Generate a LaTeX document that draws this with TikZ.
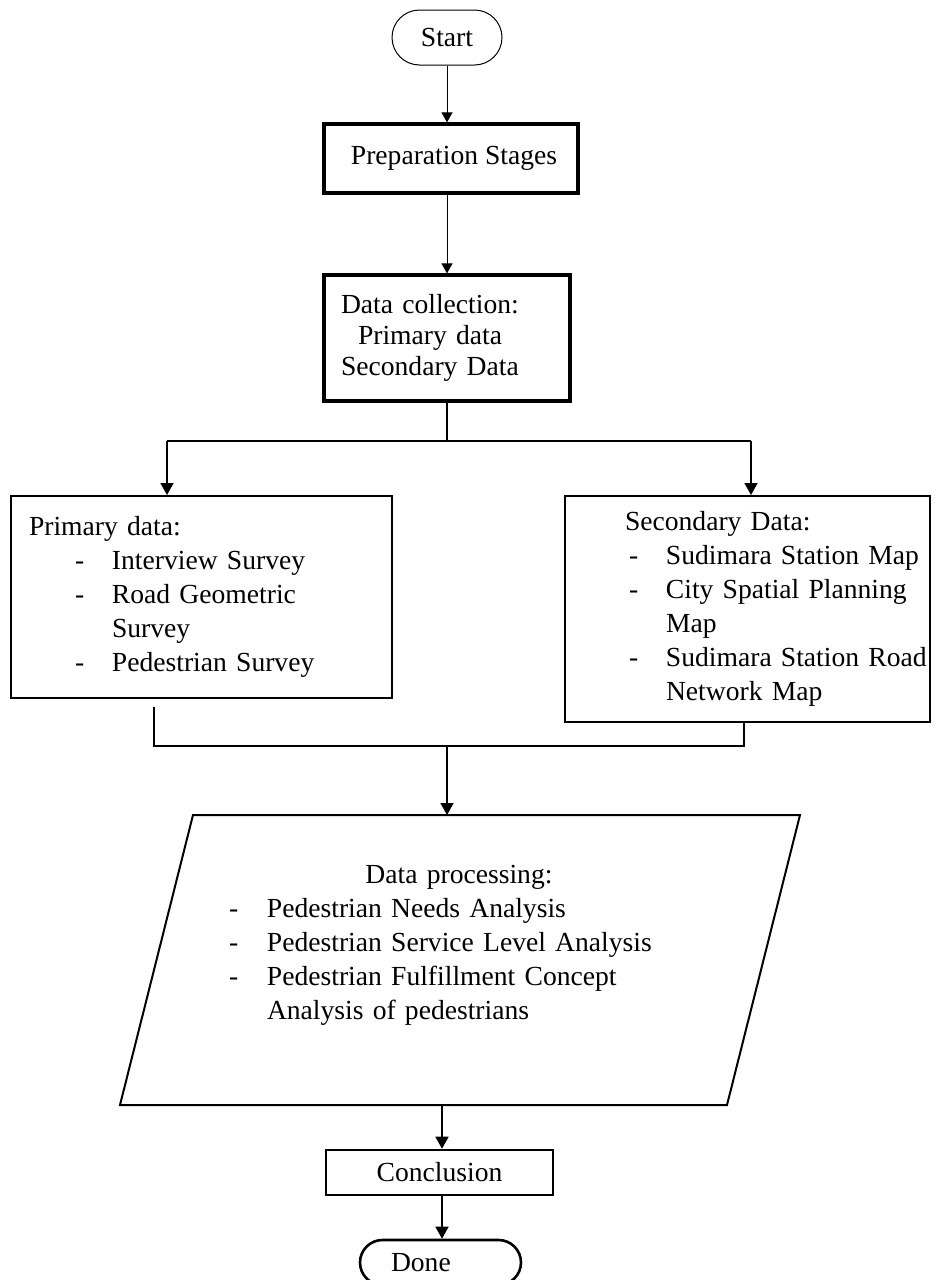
\documentclass[tikz,border=0pt]{standalone}
\usepackage{fontspec}
\setmainfont{Liberation Serif}
\usetikzlibrary{arrows.meta}
\newcommand{\dashitem}[1]{\hspace*{28pt}\makebox[18.5pt][l]{-}\mbox{#1}}
\newcommand{\dashcont}[1]{\hspace*{46.5pt}\mbox{#1}}
\newcommand{\procitem}[1]{\makebox[19pt][l]{-}\mbox{#1}}
\tikzset{
  txt/.style={font=\fontsize{13.8pt}{17pt}\selectfont},
  stepbox/.style={txt, draw, rectangle, line width=1.6pt, inner sep=0pt},
  databox/.style={txt, draw, rectangle, line width=1pt, inner ysep=0pt, inner xsep=4pt, align=left},
  termbox/.style={txt, draw, rectangle, rounded corners=11.25pt, inner sep=0pt},
  arrA/.style={-{Triangle[length=5pt,width=5.5pt]}, line width=0.5pt},
  arrB/.style={-{Triangle[length=6pt,width=6.5pt]}, line width=0.8pt},
  link/.style={line width=0.6pt}
}
\begin{document}
\begin{tikzpicture}[x=0.5pt,y=-0.5pt]
  \useasboundingbox (0,0) rectangle (936,1280);
  \node[termbox, line width=0.5pt, rounded corners=13.75pt, minimum width=55pt, minimum height=27.5pt] (start) at (447,37.5) {Start};
  \node[stepbox, minimum width=127pt, minimum height=34.5pt] (prep) at (451,158.5) {\hspace*{3pt}Preparation Stages};
  \node[stepbox, minimum width=123pt, minimum height=63pt, inner xsep=8.5pt, text width=106pt, align=left,
        font=\fontsize{13.8pt}{15.5pt}\selectfont] (collect) at (447,338)
       {Data collection:\\ \hspace*{8.5pt}Primary data\\ Secondary Data};
  \node[databox, minimum width=190.5pt, minimum height=101pt, text width=182.5pt] (primary) at (201.5,597)
       {\hspace*{5pt}Primary data:\\ \dashitem{Interview Survey}\\ \dashitem{Road Geometric}\\ \dashcont{Survey}\\ \dashitem{Pedestrian Survey}};
  \node[databox, minimum width=182.5pt, minimum height=113pt, text width=174.5pt] (secondary) at (747.5,609)
       {\hspace*{26pt}Secondary Data:\\ \dashitem{Sudimara Station Map}\\ \dashitem{City Spatial Planning}\\ \dashcont{Map}\\ \dashitem{Sudimara Station Road}\\ \dashcont{Network Map}};
  % data processing
  \draw[line width=1pt] (193,815) -- (800,815) -- (727,1105) -- (120,1105) -- cycle;
  \node[txt, text width=230pt, align=left, inner sep=0pt] (proc) at (459,945)
       {\makebox[\hsize]{Data processing:}\\ \procitem{Pedestrian Needs Analysis}\\ \procitem{Pedestrian Service Level Analysis}\\
        \procitem{Pedestrian Fulfillment Concept}\\ \hspace*{19pt}Analysis of pedestrians};
  \node[stepbox, line width=1.3pt, minimum width=113.5pt, minimum height=22.5pt] (concl) at (439.5,1172.5) {Conclusion};
  \node[termbox, line width=1.3pt, minimum width=80.5pt, minimum height=22.5pt, inner xsep=15.5pt, text width=49.5pt, align=left] (done) at (440.5,1262.5) {Done};
  \coordinate (splitL) at (167,441);
  \coordinate (splitR) at (751,441);
  \coordinate (primB) at (154,707);
  \coordinate (joinL) at (154,746);
  \coordinate (joinR) at (744,746);
  \coordinate (join) at (447,746);
  \coordinate (ptop) at (447,815);
  \coordinate (pbot) at (442,1105);
  \draw[arrA] (start) -- (start |- prep.north);
  \draw[arrA] (start |- prep.south) -- (start |- collect.north);
  \draw[link] (collect.south) -- (collect.south |- splitL);
  \draw[link] (splitL) -- (splitR);
  \draw[arrB] (splitL) -- (splitL |- primary.north);
  \draw[arrB] (splitR) -- (splitR |- secondary.north);
  \draw[link] (primB) -- (joinL) -- (joinR) -- (joinR |- secondary.south);
  \draw[arrB] (join) -- (ptop);
  \draw[arrB] (pbot) -- (pbot |- concl.north);
  \draw[arrB] (concl.south -| pbot) -- (pbot |- done.north);
\end{tikzpicture}
\end{document}
